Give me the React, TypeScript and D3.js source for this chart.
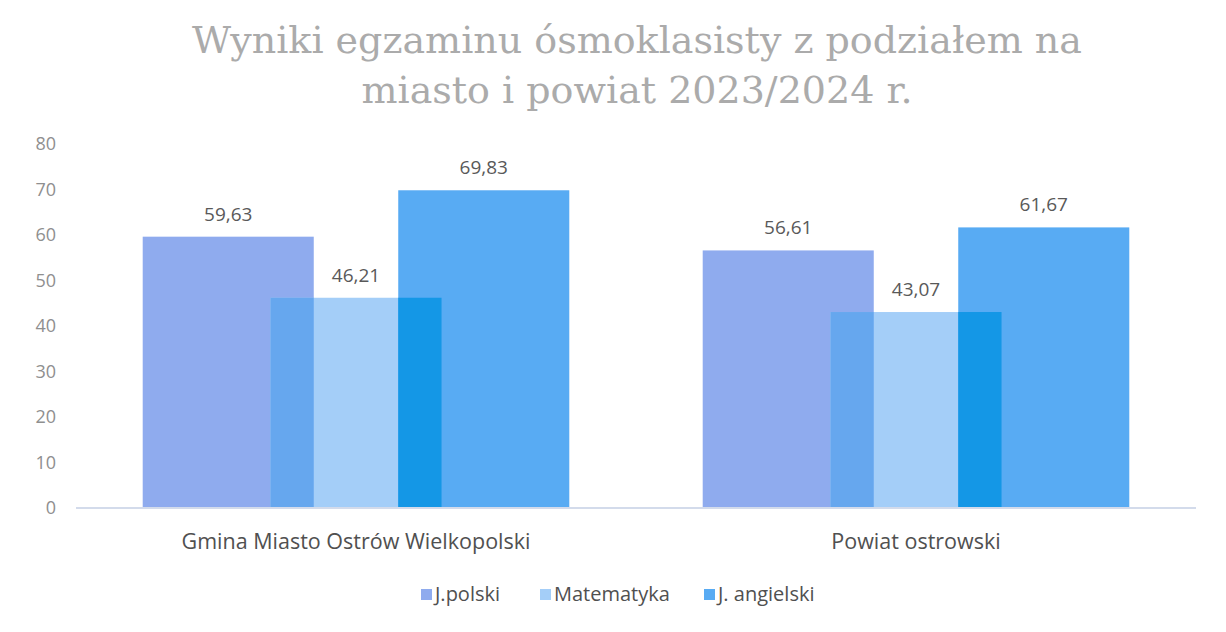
import React from 'react';
import * as d3 from 'd3';

// Categories and series values
const categories = ['Gmina Miasto Ostrów Wielkopolski', 'Powiat ostrowski'];
const seriesNames = ['J.polski', 'Matematyka', 'J. angielski'];
const polski = [59.63, 56.61];
const matematyka = [46.21, 43.07];
const angielski = [69.83, 61.67];
const yTicks = [0, 10, 20, 30, 40, 50, 60, 70, 80];
const titleLines = ['Wyniki egzaminu ósmoklasisty z podziałem na', 'miasto i powiat 2023/2024 r.'];

const colors = ['#8fabee', '#a4cef8', '#58abf3'];
// colour where two neighbouring bars overlap (polski/matematyka, matematyka/angielski)
const overlapColors = ['#66a7ee', '#1497e6'];

function App() {
  const svgRef = React.useRef(null);

  const width = 1226;
  const height = 632;
  const margin = { top: 144, right: 30, bottom: 124, left: 76 };

  React.useEffect(() => {
    document.body.style.margin = '0';
    const series = [polski, matematyka, angielski];
    const innerW = width - margin.left - margin.right;
    const innerH = height - margin.top - margin.bottom;

    const x = d3.scaleBand().domain(categories).range([0, innerW]).paddingInner(0).paddingOuter(0);
    const y = d3.scaleLinear().domain([0, 80]).range([innerH, 0]);

    // bars overlap by 25 %, gap between groups ~ 78 % of a bar
    const overlap = 0.253;
    const gap = 0.78;
    const bw = x.bandwidth() / (3 - 2 * overlap + gap);
    const step = bw * (1 - overlap);
    const groupW = bw * (3 - 2 * overlap);
    const barX = (ci: number, si: number) => x(categories[ci])! + (x.bandwidth() - groupW) / 2 + si * step;

    const svgEl = d3.select(svgRef.current);
    svgEl.selectAll('*').remove();

    svgEl.append('rect').attr('width', width).attr('height', height).attr('fill', '#ffffff');

    // title
    svgEl.append('g').selectAll('text').data(titleLines).enter().append('text')
      .attr('x', 637)
      .attr('y', (d, i) => 53 + i * 50)
      .attr('text-anchor', 'middle')
      .attr('font-family', 'DejaVu Serif')
      .attr('font-size', 38)
      .attr('fill', '#ababab')
      .text(d => d);

    const svg = svgEl.append('g').attr('transform', `translate(${margin.left},${margin.top})`);

    // y axis labels
    const yAxis = d3.axisLeft(y).tickValues(yTicks).tickSize(0).tickPadding(20);
    const yG = svg.append('g').call(yAxis);
    yG.select('.domain').remove();
    yG.selectAll('text')
      .attr('font-family', 'Open Sans')
      .attr('font-size', 18)
      .attr('fill', '#8f8f8f');

    // bars
    series.forEach((vals, si) => {
      svg.append('g').selectAll('rect').data(vals).enter().append('rect')
        .attr('x', (d, ci) => barX(ci, si))
        .attr('y', d => y(d))
        .attr('width', bw)
        .attr('height', d => innerH - y(d))
        .attr('fill', colors[si]);
    });

    // overlapping parts of neighbouring bars
    for (let si = 0; si < series.length - 1; si++) {
      svg.append('g').selectAll('rect').data(categories).enter().append('rect')
        .attr('x', (d, ci) => barX(ci, si + 1))
        .attr('y', (d, ci) => y(Math.min(series[si][ci], series[si + 1][ci])))
        .attr('width', bw - step)
        .attr('height', (d, ci) => innerH - y(Math.min(series[si][ci], series[si + 1][ci])))
        .attr('fill', overlapColors[si]);
    }

    // data labels
    series.forEach((vals, si) => {
      svg.append('g').selectAll('text').data(vals).enter().append('text')
        .attr('x', (d, ci) => barX(ci, si) + bw / 2)
        .attr('y', d => y(d) - 16)
        .attr('text-anchor', 'middle')
        .attr('font-family', 'Open Sans')
        .attr('font-size', 19)
        .attr('fill', '#595959')
        .text(d => d.toFixed(2).replace('.', ','));
    });

    // baseline
    svg.append('line')
      .attr('x1', 0).attr('x2', innerW)
      .attr('y1', innerH).attr('y2', innerH)
      .attr('stroke', '#d3dbeb')
      .attr('stroke-width', 2);

    // category labels
    const xAxis = d3.axisBottom(x).tickSize(0).tickPadding(26);
    const xG = svg.append('g').attr('transform', `translate(0,${innerH})`).call(xAxis);
    xG.select('.domain').remove();
    xG.selectAll('text')
      .attr('font-family', 'Open Sans')
      .attr('font-size', 21.5)
      .attr('fill', '#505050');

    // legend
    const legendX = [421, 540, 704];
    const legend = svgEl.append('g');
    seriesNames.forEach((name, i) => {
      legend.append('rect')
        .attr('x', legendX[i]).attr('y', 589)
        .attr('width', 11).attr('height', 11)
        .attr('fill', colors[i]);
      legend.append('text')
        .attr('x', legendX[i] + 14).attr('y', 601)
        .attr('font-family', 'Open Sans')
        .attr('font-size', 20)
        .attr('fill', '#505050')
        .text(name);
    });
  }, []);

  return <svg ref={svgRef} width={width} height={height} style={{ display: 'block' }} />;
}

export default App;
